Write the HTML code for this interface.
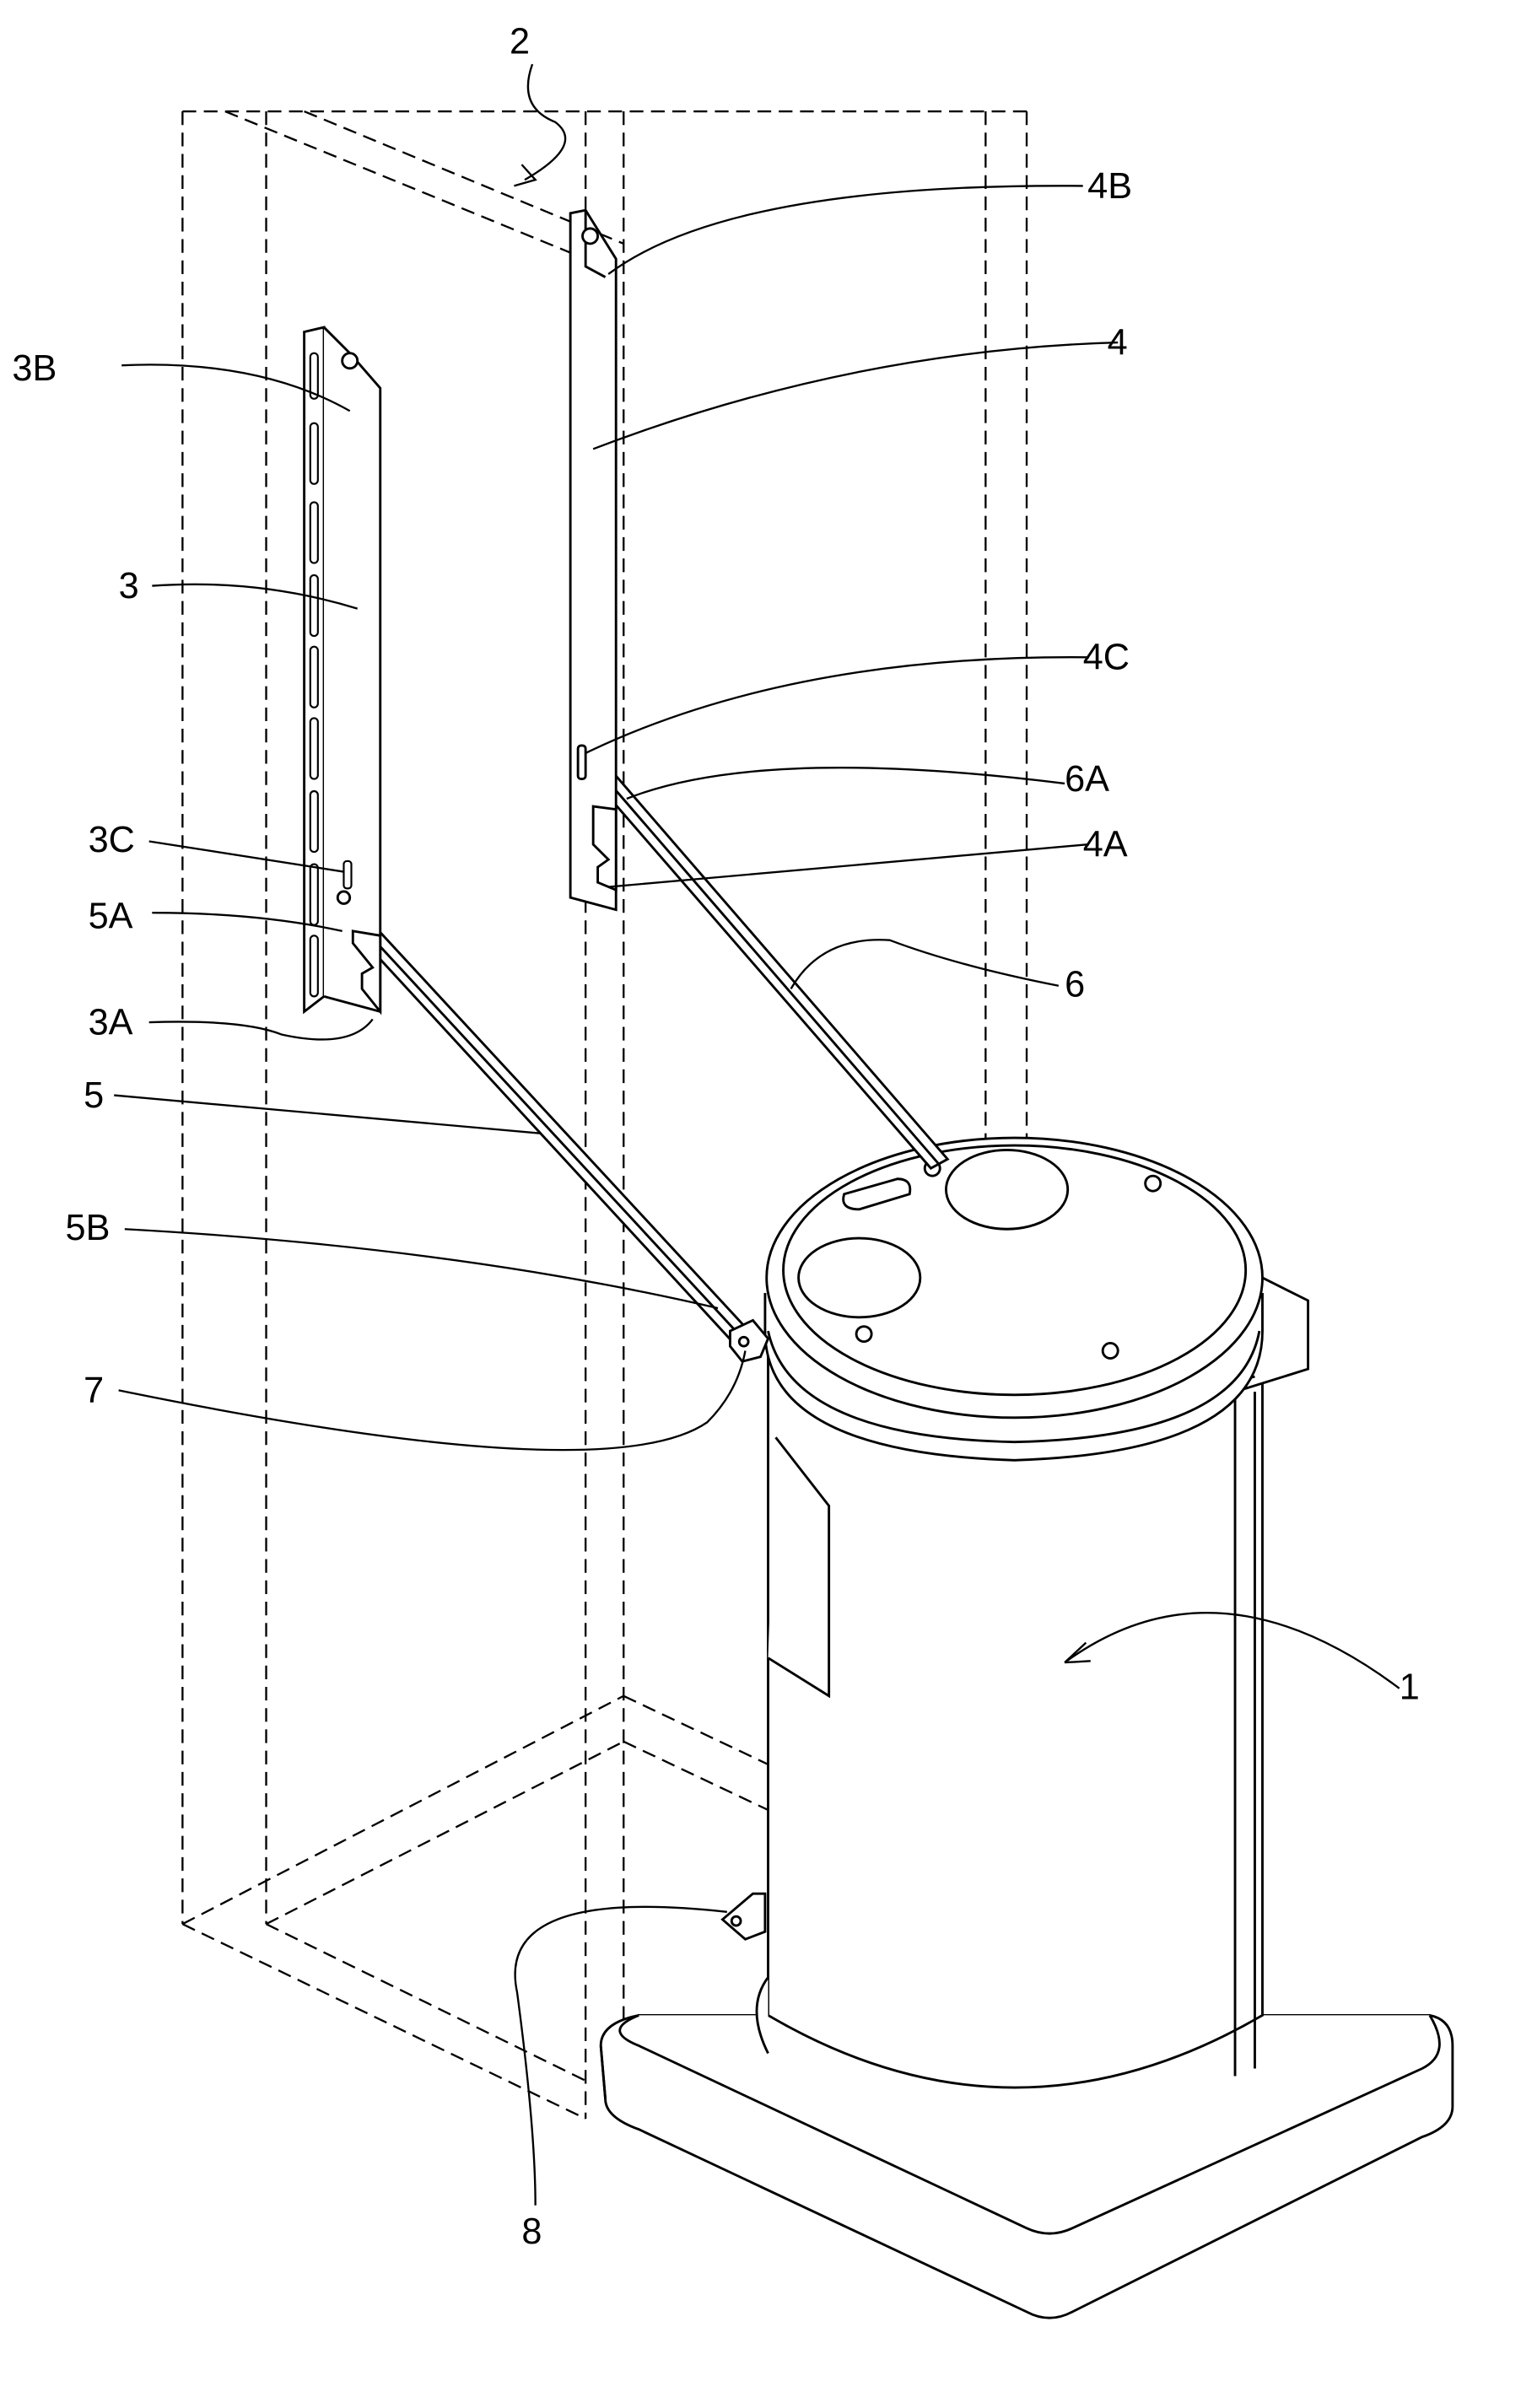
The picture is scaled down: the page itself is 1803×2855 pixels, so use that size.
<!DOCTYPE html>
<html><head><meta charset="utf-8"><style>
html,body{margin:0;padding:0;background:#fff;}
svg{display:block;}
text{font-family:"Liberation Sans",sans-serif;font-size:24px;fill:#000;}
</style></head><body>
<svg width="1803" height="2855" viewBox="0 0 1000 1583" xmlns="http://www.w3.org/2000/svg">
<g fill="none" stroke="#000" stroke-width="1.3" stroke-dasharray="9,5">
<line x1="120" y1="73" x2="675" y2="73"/>
<line x1="120" y1="73" x2="120" y2="1265"/>
<line x1="175" y1="73" x2="175" y2="1265"/>
<line x1="385" y1="73" x2="385" y2="1393"/>
<line x1="410" y1="73" x2="410" y2="1380"/>
<line x1="648" y1="73" x2="648" y2="760"/>
<line x1="675" y1="73" x2="675" y2="760"/>
<line x1="148" y1="73" x2="385" y2="170"/>
<line x1="200" y1="73" x2="410" y2="160"/>
<line x1="120" y1="1265" x2="410" y2="1115"/>
<line x1="175" y1="1265" x2="410" y2="1145"/>
<line x1="410" y1="1115" x2="505" y2="1160"/>
<line x1="410" y1="1145" x2="505" y2="1190"/>
<line x1="120" y1="1265" x2="385" y2="1393"/>
<line x1="175" y1="1265" x2="385" y2="1368"/>
</g>
<g fill="#fff" stroke="#000" stroke-width="1.6">
<!-- base plate -->
<path d="M395,1345 Q395,1330 420,1325 L940,1325 Q955,1328 955,1345 L955,1385 Q955,1398 935,1405 L705,1520 Q690,1528 675,1520 L420,1400 Q398,1392 398,1380 Z"/>
<path d="M395,1345 L398,1380 M420,1325 Q395,1335 420,1345 L675,1465 Q690,1472 705,1465 L935,1360 Q955,1350 940,1325"/>
<!-- cylinder body -->
<path d="M505,880 L505,1325 Q667,1420 830,1325 L830,880"/>
<path d="M505,1300 Q490,1320 505,1350"/>
<path d="M812,915 L812,1365 M825,915 L825,1360 M812,915 L860,900 L860,855 L830,840"/>
<path d="M812,915 L812,908 L825,905"/>
<path d="M510,945 L545,990 L545,1115 L505,1090"/>
<!-- lid -->
<path d="M503,850 L503,875 Q503,955 667,960 Q830,955 830,875 L830,850"/>
<path d="M505,875 Q520,945 667,948 Q815,945 828,875"/>
<ellipse cx="667" cy="840" rx="163" ry="92"/>
<ellipse cx="667" cy="835" rx="152" ry="82"/>
<ellipse cx="565" cy="840" rx="40" ry="26"/>
<ellipse cx="662" cy="782" rx="40" ry="26"/>
<path d="M555,785 L590,775 Q600,775 598,785 L565,795 Q552,795 555,785 Z"/>
<circle cx="613" cy="768" r="5"/><circle cx="758" cy="778" r="5"/>
<circle cx="568" cy="877" r="5"/><circle cx="730" cy="888" r="5"/>
<!-- arm 6 -->
<path d="M405,510 L623,762 L612,768 L397,520 Z"/>
<line x1="401" y1="515" x2="617" y2="765"/>
<!-- arm 5 -->
<path d="M227,588 L497,880 L487,888 L220,598 Z"/>
<line x1="223" y1="593" x2="492" y2="884"/>
<path d="M480,875 L495,868 L505,880 L500,892 L488,895 L480,885 Z"/>
<circle cx="489" cy="882" r="3"/>
<!-- rail 3 -->
<path d="M200,218 L213,215 L213,655 L200,665 Z"/>
<path d="M213,215 L230,232 L250,255 L250,665 L213,655"/>
<path d="M232,612 L250,615 L250,665 L238,650 L238,640 L245,636 L232,620 Z"/>
<circle cx="230" cy="237" r="5"/>
<g stroke-width="1.2">
<rect x="204" y="232" width="5" height="30" rx="2.5"/><rect x="204" y="278" width="5" height="40" rx="2.5"/>
<rect x="204" y="330" width="5" height="40" rx="2.5"/><rect x="204" y="378" width="5" height="40" rx="2.5"/>
<rect x="204" y="425" width="5" height="40" rx="2.5"/><rect x="204" y="472" width="5" height="40" rx="2.5"/>
<rect x="204" y="520" width="5" height="40" rx="2.5"/><rect x="204" y="568" width="5" height="40" rx="2.5"/>
<rect x="204" y="615" width="5" height="40" rx="2.5"/>
<rect x="226" y="566" width="5" height="18" rx="2"/>
</g>
<circle cx="226" cy="590" r="4"/>
<!-- rail 4 -->
<path d="M375,140 L385,138 L405,170 L405,598 L375,590 Z"/>
<path d="M385,138 L385,175 L398,182"/>
<circle cx="388" cy="155" r="5"/>
<path d="M390,530 L405,532 L405,585 L393,580 L393,570 L400,565 L390,555 Z"/>
<rect x="380" y="490" width="5" height="22" rx="2"/>
<!-- bracket 8 -->
<path d="M475,1262 L495,1245 L503,1245 L503,1270 L490,1275 Z"/>
<circle cx="484" cy="1263" r="3"/>
</g>
<!-- leaders -->
<g fill="none" stroke="#000" stroke-width="1.3">
<path d="M350,42 Q340,70 365,80 Q385,95 345,118"/>
<path d="M338,122 L352,118 L343,108"/>
<path d="M80,240 Q170,236 230,270"/>
<path d="M100,385 Q170,380 235,400"/>
<path d="M98,553 L226,573"/>
<path d="M100,600 Q170,600 225,612"/>
<path d="M98,672 Q160,670 185,680 Q230,690 245,670"/>
<path d="M75,720 Q250,735 355,745"/>
<path d="M82,808 Q300,820 472,860"/>
<path d="M78,914 Q400,980 465,935 Q485,915 490,888"/>
<path d="M712,122 Q480,120 400,180"/>
<path d="M735,225 Q560,230 390,295"/>
<path d="M716,432 Q520,430 385,495"/>
<path d="M700,515 Q500,490 412,525"/>
<path d="M716,555 L400,583"/>
<path d="M696,648 Q630,635 585,618 Q540,615 520,650"/>
<path d="M920,1110 Q800,1020 700,1093"/>
<path d="M700,1093 L714,1080 M700,1093 L717,1092"/>
<path d="M352,1450 Q352,1400 340,1310 Q325,1240 478,1257"/>
</g>
<text x="335" y="35">2</text>
<text x="715" y="130">4B</text>
<text x="8" y="250">3B</text>
<text x="728" y="233">4</text>
<text x="78" y="393">3</text>
<text x="712" y="440">4C</text>
<text x="58" y="560">3C</text>
<text x="700" y="520">6A</text>
<text x="712" y="563">4A</text>
<text x="58" y="610">5A</text>
<text x="700" y="655">6</text>
<text x="58" y="680">3A</text>
<text x="55" y="728">5</text>
<text x="43" y="815">5B</text>
<text x="55" y="922">7</text>
<text x="920" y="1117">1</text>
<text x="343" y="1475">8</text>
</svg>
</body></html>
